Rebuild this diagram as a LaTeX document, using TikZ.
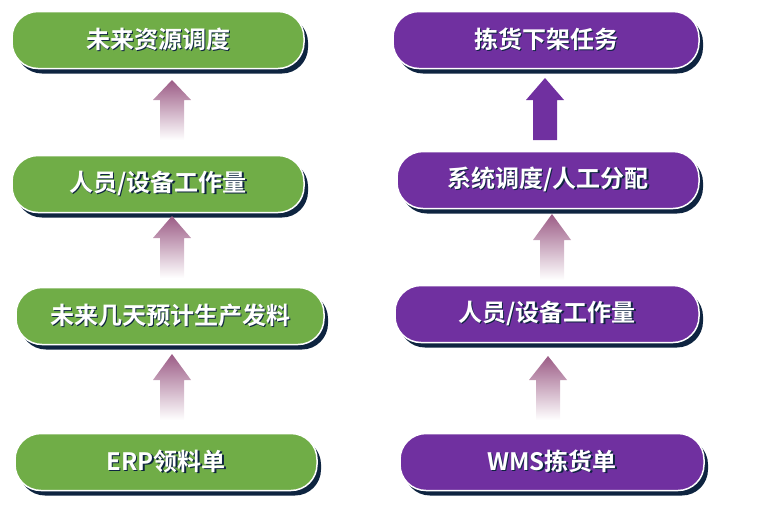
\documentclass[tikz,border=0pt]{standalone}
\usepackage{fontspec}
\setmainfont{Noto Sans CJK SC}[BoldFont={* Bold}]
\usetikzlibrary{shadows,calc}
\definecolor{leafgreen}{HTML}{70AD47}
\definecolor{grape}{HTML}{7030A0}
\definecolor{navyshade}{HTML}{0E2440}
\definecolor{mauve}{HTML}{9C5C86}
\newcommand\shtxt[1]{\makebox[0pt][l]{\hspace{1.5pt}\raisebox{-1.5pt}{\color{navyshade}#1}}#1}
\newcommand\blockarrow[4]{% x, ybottom, ytop, fill options
  \path[#4] ($(#1,#2)+(-12,0)$) -- ++(0,-40) -- ++(-7,0) -- ($(#1,#3)$)
    -- ($(#1,#2)+(19,-40)$) -- ++(-7,0) -- ++(0,40) -- cycle;}
\begin{document}
\begin{tikzpicture}
	[x=1pt,y=-1pt,
	pill/.style={draw=white,line width=1.5pt,rounded corners=26pt,minimum height=57pt,
		text=white,font=\bfseries\fontsize{24}{26}\selectfont,
		drop shadow={shadow xshift=4pt,shadow yshift=-5pt,fill=navyshade,opacity=1}},
	greenpill/.style={pill,fill=leafgreen},
	purplepill/.style={pill,fill=grape},
	fadearrow/.style={top color=mauve,bottom color=white},
	solidarrow/.style={fill=grape}]
	
	\useasboundingbox (0,0) rectangle (763,515);
	
	\node[greenpill,minimum width=292pt] (g1) at (158,40) {\shtxt{未来资源调度}};
	\node[greenpill,minimum width=292pt] (g2) at (158,184) {\shtxt{人员/设备工作量}};
	\node[greenpill,minimum width=308pt] (g3) at (170,316) {\shtxt{未来几天预计生产发料}};
	\node[greenpill,minimum width=302pt] (g4) at (166,462) {\shtxt{ERP领料单}};
	
	\node[purplepill,minimum width=306pt] (p1) at (546,40) {\shtxt{拣货下架任务}};
	\node[purplepill,minimum width=302pt] (p2) at (548,180) {\shtxt{系统调度/人工分配}};
	\node[purplepill,minimum width=304pt] (p3) at (547,314) {\shtxt{人员/设备工作量}};
	\node[purplepill,minimum width=304pt] (p4) at (552,462) {\shtxt{WMS拣货单}};
	
	\blockarrow{172}{140}{80}{fadearrow}
	\blockarrow{172}{278}{216}{fadearrow}
	\blockarrow{172}{420}{354}{fadearrow}
	
	\blockarrow{545}{140}{78}{solidarrow}
	\blockarrow{552}{280}{214}{fadearrow}
	\blockarrow{548}{420}{356}{fadearrow}
\end{tikzpicture}
\end{document}
